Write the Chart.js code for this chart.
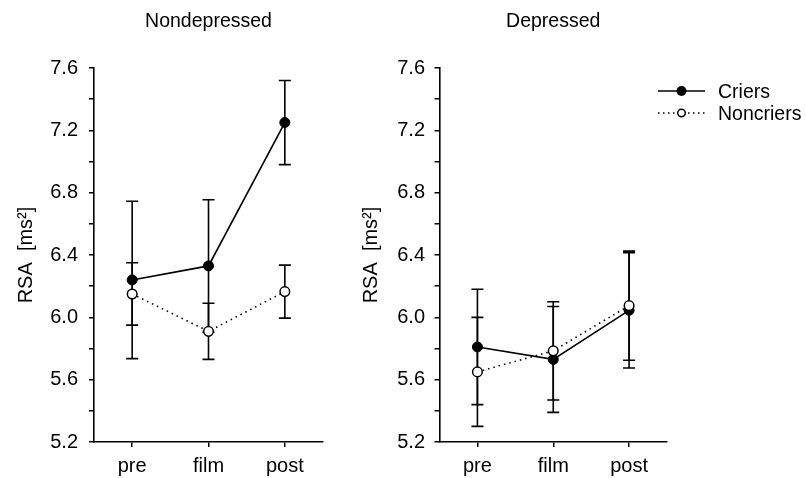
<!DOCTYPE html>
<html>
<head>
<meta charset="utf-8">
<script src="https://cdn.jsdelivr.net/npm/chart.js@4"></script>
<style>
  html, body { margin: 0; padding: 0; background: #fff; }
  body { width: 806px; height: 478px; position: relative; overflow: hidden; font-family: "Liberation Sans", Arial, Helvetica, sans-serif; }
  #c1 { position: absolute; left: 0; top: 0; }
  #c2 { position: absolute; left: 345px; top: 0; }
  .leg { position: absolute; left: 656px; height: 22px; display: flex; align-items: center; font-size: 19.5px; color: #000; }
  .leg svg { margin-right: 12px; }
</style>
</head>
<body>
<canvas id="c1" width="340" height="478"></canvas>
<canvas id="c2" width="461" height="478"></canvas>
<div class="leg" style="top:80px;">
  <svg width="50" height="22"><line x1="2" y1="11" x2="49" y2="11" stroke="#000" stroke-width="1.6"/><circle cx="25.5" cy="11" r="5" fill="#000"/></svg><span>Criers</span>
</div>
<div class="leg" style="top:102px;">
  <svg width="50" height="22"><line x1="2" y1="11" x2="49" y2="11" stroke="#000" stroke-width="1.5" stroke-dasharray="1.5 3.5"/><circle cx="25.5" cy="11" r="3.8" fill="#fff" stroke="#000" stroke-width="1.5"/></svg><span>Noncriers</span>
</div>
<script>
// ---- data ----
const categories = ["pre", "film", "post"];
const panelTitles = ["Nondepressed", "Depressed"];
const seriesNames = ["Criers", "Noncriers"];
const yTitle = "RSA  [ms²]";
const yMin = 5.2, yMax = 7.6, yStep = 0.2;

const nondepCriers = [6.24, 6.33, 7.25];
const nondepCriersErr = [0.505, 0.425, 0.27];
const nondepNoncriers = [6.15, 5.91, 6.165];
const nondepNoncriersErr = [0.2, 0.18, 0.17];

const depCriers = [5.81, 5.73, 6.045];
const depCriersErr = [0.37, 0.34, 0.37];
const depNoncriers = [5.65, 5.785, 6.075];
const depNoncriersErr = [0.35, 0.315, 0.35];

// ---- rendering ----
const FONT = "'Liberation Sans', Arial, Helvetica, sans-serif";
Chart.defaults.font.family = FONT;
Chart.defaults.color = '#000';

const errorBarPlugin = {
  id: 'errorBars',
  beforeDatasetsDraw(chart) {
    const ctx = chart.ctx;
    const y = chart.scales.y;
    ctx.save();
    ctx.strokeStyle = '#000';
    ctx.lineWidth = 1.6;
    chart.data.datasets.forEach((ds, i) => {
      const meta = chart.getDatasetMeta(i);
      const errs = ds.errorBars || [];
      meta.data.forEach((pt, j) => {
        const v = ds.data[j], e = errs[j];
        if (e == null) return;
        const x = pt.x;
        const yt = y.getPixelForValue(v + e);
        const yb = y.getPixelForValue(v - e);
        const cap = 6;
        ctx.beginPath();
        ctx.moveTo(x, yt); ctx.lineTo(x, yb);
        ctx.moveTo(x - cap, yt); ctx.lineTo(x + cap, yt);
        ctx.moveTo(x - cap, yb); ctx.lineTo(x + cap, yb);
        ctx.stroke();
      });
    });
    ctx.restore();
  }
};

function makeChart(id, title, criers, criersErr, noncriers, noncriersErr, axisWidth, padRight, tickPad) {
  return new Chart(document.getElementById(id), {
    type: 'line',
    data: {
      labels: categories,
      datasets: [
        {
          label: seriesNames[0],
          data: criers,
          errorBars: criersErr,
          borderColor: '#000',
          borderWidth: 1.6,
          pointRadius: 5,
          pointBackgroundColor: '#000',
          pointBorderColor: '#000',
          pointBorderWidth: 1,
          tension: 0,
          order: 2
        },
        {
          label: seriesNames[1],
          data: noncriers,
          errorBars: noncriersErr,
          borderColor: '#000',
          borderWidth: 1.6,
          borderDash: [1.5, 4],
          pointRadius: 4.8,
          pointBackgroundColor: '#fff',
          pointBorderColor: '#000',
          pointBorderWidth: 1.5,
          tension: 0,
          order: 1
        }
      ]
    },
    options: {
      responsive: false,
      animation: false,
      events: [],
      layout: { padding: { left: 0, right: padRight, top: 0, bottom: 0 } },
      plugins: {
        legend: { display: false },
        tooltip: { enabled: false },
        title: {
          display: true,
          text: title,
          fullSize: false,
          color: '#000',
          font: { family: FONT, size: 19.5, weight: 'normal' },
          padding: { top: 10, bottom: 34.6 }
        }
      },
      scales: {
        x: {
          type: 'category',
          offset: true,
          afterFit(scale) { scale.height = 36; },
          grid: { display: true, drawOnChartArea: false, drawTicks: true, tickLength: 5, offset: false, color: '#000', lineWidth: 1.5 },
          border: { display: true, color: '#000', width: 1.6 },
          ticks: { color: '#000', font: { family: FONT, size: 20 }, padding: 7, maxRotation: 0 }
        },
        y: {
          min: yMin,
          max: yMax,
          afterFit(scale) { scale.width = axisWidth; },
          grid: { display: true, drawOnChartArea: false, drawTicks: true, tickLength: 5, color: '#000', lineWidth: 1.5 },
          border: { display: true, color: '#000', width: 1.6 },
          ticks: {
            stepSize: yStep,
            maxTicksLimit: 30,
            autoSkip: false,
            padding: tickPad,
            color: '#000',
            font: { family: FONT, size: 20 },
            callback(v) {
              const k = Math.round(v * 10);
              return (k % 4 === 0) ? (k / 10).toFixed(1) : '';
            }
          },
          title: {
            display: true,
            text: yTitle,
            color: '#000',
            font: { family: FONT, size: 20 },
            padding: { top: 14.5, bottom: 0 }
          }
        }
      }
    },
    plugins: [errorBarPlugin]
  });
}

makeChart('c1', panelTitles[0], nondepCriers, nondepCriersErr, nondepNoncriers, nondepNoncriersErr, 94, 17, 11);
makeChart('c2', panelTitles[1], depCriers, depCriersErr, depNoncriers, depNoncriersErr, 94.5, 139, 9.5);
</script>
</body>
</html>
